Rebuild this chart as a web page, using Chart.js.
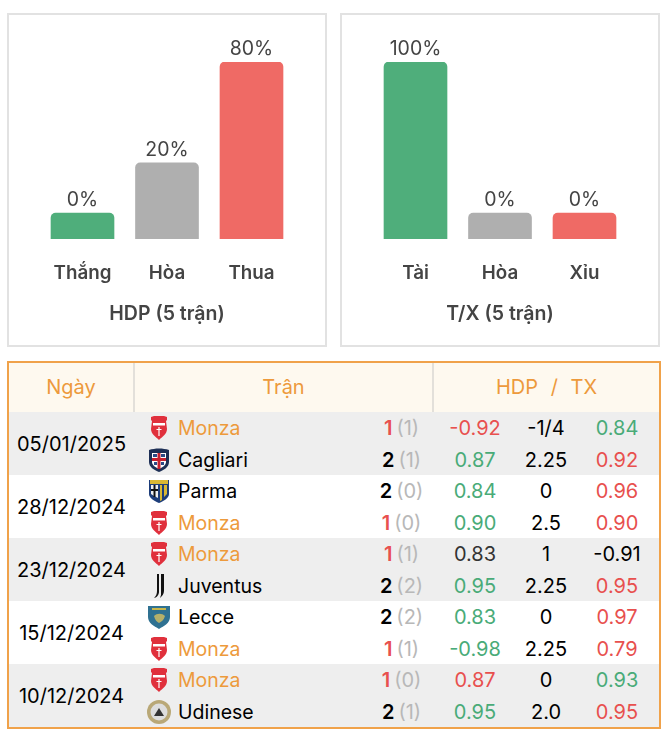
<!DOCTYPE html>
<html lang="vi">
<head>
<meta charset="utf-8">
<title>Thống kê</title>
<script src="https://cdn.jsdelivr.net/npm/chart.js@4/dist/chart.umd.js"></script>
<style>
    html, body { margin: 0; padding: 0; background: #fff; }
    body { width: 668px; height: 740px; position: relative; font-family: Inter, "Noto Sans", sans-serif; overflow: hidden; }
    .panel { position: absolute; top: 13px; width: 316px; height: 330px; border: 2px solid #e2e2e2; }
    .panel canvas { display: block; }
    #panelHdp { left: 7px; }
    #panelTx { left: 340px; }
    #tableWrap { position: absolute; left: 7px; top: 361px; width: 650px; border: 2px solid #f0a24a; }
    table { width: 650px; border-collapse: collapse; table-layout: fixed; font-size: 20px; color: #000; }
    th { height: 49px; padding: 0 0 2px; box-sizing: border-box; background: #fef9ef; color: #ed9a3c; font-size: 20px; font-weight: 400; border-right: 2px solid #e3e0da; }
    th:last-child { border-right: none; word-spacing: 7px; }
    td { height: 31.5px; padding: 1px 0 0; box-sizing: border-box; text-align: center; white-space: nowrap; }
    tr.shade td { background: #eeeeee; }
    td.date { font-size: 20px; }
    td.team { text-align: left; font-size: 19.5px; }
    td.team div { display: flex; align-items: center; height: 30.5px; padding-left: 13px; }
    td.team svg { width: 24px; height: 26px; margin-right: 7px; flex: none; }
    td.team.focus { color: #ed9a3c; }
    .goal { font-weight: 600; margin-right: 4px; }
    .goal.lost { color: #e8504e; }
    .half { color: #b8b8b8; }
    .win { color: #49ab78; }
    .lose { color: #e8504e; }
    .flat { color: #333; }
</style>
</head>
<body>
<div class="panel" id="panelHdp"><canvas id="hdpChart" width="316" height="330"></canvas></div>
<div class="panel" id="panelTx"><canvas id="txChart" width="316" height="330"></canvas></div>
<div id="tableWrap"><table id="matchTable"></table></div>

<script>
// Cot: chieu cao doc tu anh (0% van co cot toi thieu), nhan la so % hien thi
const hdpCategories = ['Thắng', 'Hòa', 'Thua'];
const hdpBarHeights = [14.6, 43, 100];
const hdpPercents = ['0%', '20%', '80%'];
const hdpTitle = 'HDP (5 trận)';

const txCategories = ['Tài', 'Hòa', 'Xỉu'];
const txBarHeights = [100, 14.6, 14.6];
const txPercents = ['100%', '0%', '0%'];
const txTitle = 'T/X (5 trận)';

const barColors = ['#4fae7b', '#afafaf', '#ef6a65'];

// Bang tran dau: moi ngay hai dong
const focusTeam = 'Monza';
const matchDates = ['05/01/2025', '28/12/2024', '23/12/2024', '15/12/2024', '10/12/2024'];
const teamNames = ['Monza', 'Cagliari', 'Parma', 'Monza', 'Monza', 'Juventus', 'Lecce', 'Monza', 'Monza', 'Udinese'];
const goals = [1, 2, 2, 1, 1, 2, 2, 1, 1, 2];
const halfGoals = [1, 1, 0, 0, 1, 2, 2, 1, 0, 1];
const hdpOdds = ['-0.92', '0.87', '0.84', '0.90', '0.83', '0.95', '0.83', '-0.98', '0.87', '0.95'];
const hdpOddsResult = ['lose', 'win', 'win', 'win', 'flat', 'win', 'win', 'win', 'lose', 'win'];
const handicapLines = ['-1/4', '2.25', '0', '2.5', '1', '2.25', '0', '2.25', '0', '2.0'];
const txOdds = ['0.84', '0.92', '0.96', '0.90', '-0.91', '0.95', '0.97', '0.79', '0.93', '0.95'];
const txOddsResult = ['win', 'lose', 'lose', 'lose', '', 'lose', 'lose', 'lose', 'win', 'lose'];

const logos = {
    Monza: '<path d="M4 2l3-1h10l3 1v3l-1 1 1 8c0 5-5 8-8 11-3-3-8-6-8-11l1-8-1-1z" fill="#e0303c"/><rect x="6" y="8" width="12" height="2.5" fill="#fff"/><path d="M11.4 12h1.2v9h-1.2zM9.5 14h5v1h-5z" fill="#fff"/>',
    Cagliari: '<path d="M2 3c6-2 14-2 20 0v12c0 5-5 8-10 10C7 23 2 20 2 15z" fill="#1d2f55"/><path d="M5 6h14v9c0 3-3 5-7 7-4-2-7-4-7-7z" fill="#fff"/><path d="M5 11h14v3H5z" fill="#c8202f"/><path d="M10.5 6h3v16h-3z" fill="#c8202f"/><path d="M6 7h4v3H6zM14 7h4v3h-4zM7 15h3v3H7zM14 15h3v3h-3z" fill="#2c4a86"/>',
    Parma: '<path d="M2 2h20v14c0 4-5 7-10 9C7 23 2 20 2 16z" fill="#1d3d7a"/><rect x="3" y="2" width="18" height="4" fill="#d9b733"/><path d="M4 7h7v13l-4-2-3-2z" fill="#eee"/><path d="M6.5 7h2v12h-2zM4 11h7v2H4z" fill="#111"/><path d="M13 7h2v15l-2 1zM17 7h3v9l-3 3z" fill="#d9b733"/>',
    Juventus: '<path d="M10 1h2v18c0 3-3 6-5 6 2-2 3-4 3-7zM14 1h3v17c0 3-2 5-4 7l1-3z" fill="#111"/>',
    Lecce: '<path d="M1 2h22v11c0 6-6 9-11 12C7 22 1 19 1 13z" fill="#2f7191"/><path d="M7 12c3-3 8-3 11 0-1 4-4 6-6 7-2-1-4-3-5-7z" fill="#b5b06a"/><rect x="5" y="4" width="14" height="2" fill="#c9b74b"/>',
    Udinese: '<circle cx="12" cy="13" r="12" fill="#b9a877"/><circle cx="12" cy="13" r="8.5" fill="#ddd"/><path d="M12 9l5 8H7z" fill="#333"/>'
};

const percentLabels = {
    id: 'percentLabels',
    afterDatasetsDraw(chart, args, opts) {
        const { ctx } = chart;
        ctx.save();
        ctx.font = '400 19.5px Inter, "Noto Sans", sans-serif';
        ctx.fillStyle = '#444';
        ctx.textAlign = 'center';
        ctx.textBaseline = 'bottom';
        chart.getDatasetMeta(0).data.forEach((bar, i) => {
            ctx.fillText(opts.texts[i], bar.x, bar.y - 3);
        });
        ctx.restore();
    }
};

const makeChart = (id, labels, heights, texts, title) => {
    const canvas = document.getElementById(id);
    return new Chart(canvas.getContext('2d'), {
        type: 'bar',
        data: {
            labels: labels,
            datasets: [{
                data: heights,
                backgroundColor: barColors,
                barThickness: 63,
                borderRadius: { topLeft: 5, topRight: 5, bottomLeft: 0, bottomRight: 0 },
                borderSkipped: false
            }]
        },
        options: {
            responsive: false,
            animation: false,
            layout: { padding: { top: 47, left: 31.25, right: 31.25, bottom: 0 } },
            plugins: {
                legend: { display: false },
                tooltip: { enabled: false },
                percentLabels: { texts: texts }
            },
            scales: {
                y: { display: false, min: 0, max: 100 },
                x: {
                    afterFit: (scale) => { scale.height = 106; },
                    grid: { display: false, drawTicks: false },
                    border: { display: false },
                    ticks: {
                        color: '#444',
                        padding: 23,
                        maxRotation: 0,
                        font: { family: 'Inter, "Noto Sans", sans-serif', size: 18.8, weight: '600' }
                    },
                    title: {
                        display: true,
                        text: title,
                        color: '#444',
                        padding: { top: 0, bottom: 19 },
                        font: { family: 'Inter, "Noto Sans", sans-serif', size: 19.5, weight: '600' }
                    }
                }
            }
        },
        plugins: [percentLabels]
    });
};

makeChart('hdpChart', hdpCategories, hdpBarHeights, hdpPercents, hdpTitle);
makeChart('txChart', txCategories, txBarHeights, txPercents, txTitle);

const cell = (cls, text) => `<td class="${cls}">${text}</td>`;
let rows = `<colgroup><col style="width:125px"><col style="width:236px"><col style="width:63px"><col style="width:84px"><col style="width:58px"><col style="width:84px"></colgroup>
<tr><th>Ngày</th><th colspan="2">Trận</th><th colspan="3">HDP / TX</th></tr>`;

teamNames.forEach((team, i) => {
    const group = Math.floor(i / 2);
    const isFocus = team === focusTeam;
    let html = '';
    if (i % 2 === 0) {
        html += `<td class="date" rowspan="2">${matchDates[group]}</td>`;
    }
    html += `<td class="team${isFocus ? ' focus' : ''}"><div><svg viewBox="0 0 24 26">${logos[team]}</svg>${team}</div></td>`;
    html += cell('', `<span class="goal${isFocus ? ' lost' : ''}">${goals[i]}</span><span class="half">(${halfGoals[i]})</span>`);
    html += cell(hdpOddsResult[i], hdpOdds[i]);
    html += cell('', handicapLines[i]);
    html += cell(txOddsResult[i], txOdds[i]);
    rows += `<tr class="${group % 2 === 0 ? 'shade' : ''}">${html}</tr>`;
});
document.getElementById('matchTable').innerHTML = rows;
</script>
</body>
</html>
